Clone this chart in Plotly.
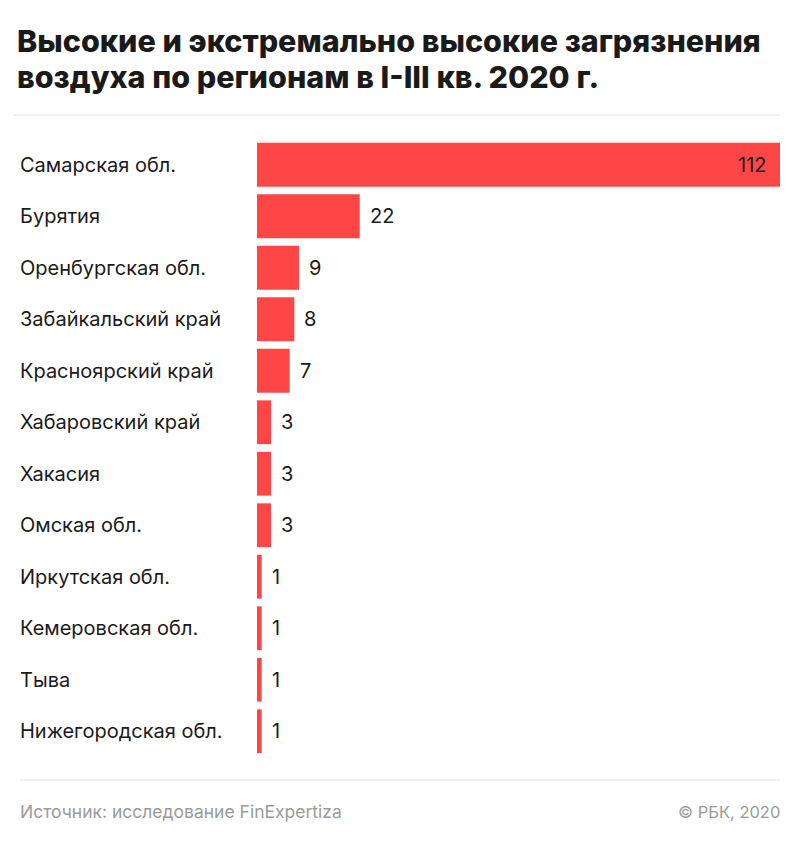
import plotly.graph_objects as go

regions = ["Самарская обл.", "Бурятия", "Оренбургская обл.", "Забайкальский край",
           "Красноярский край", "Хабаровский край", "Хакасия", "Омская обл.",
           "Иркутская обл.", "Кемеровская обл.", "Тыва", "Нижегородская обл."]
values = [112, 22, 9, 8, 7, 3, 3, 3, 1, 1, 1, 1]

title_lines = ["Высокие и экстремально высокие загрязнения",
               "воздуха по регионам в I-III кв. 2020 г."]
source_text = "Источник: исследование FinExpertiza"
credit_text = "© РБК, 2020"

RED = "#ff4646"
DARK = "#1a1a1a"
GRAY = "#9a9a9a"
FONT = "Inter"

W, H = 800, 845
OFF = 8  # page offset of the figure in the browser window
ml, mr, mt, mb = 257 - OFF, 20 + OFF, 139 - OFF, 88 + OFF
pw = W - ml - mr
ph = H - mt - mb


def px_x(px):
    """window pixel x -> paper x"""
    return (px - OFF - ml) / pw


def px_y(py):
    """window pixel y -> paper y"""
    return (H - mb - (py - OFF)) / ph


fig = go.Figure(go.Bar(
    x=values, y=regions, orientation="h",
    marker=dict(color=RED, line=dict(width=0)),
    hoverinfo="skip",
))

ann = []
for r in regions:
    ann.append(dict(x=px_x(18), xref="paper", y=r, yref="y",
                    text=r, showarrow=False, xanchor="left", yanchor="middle",
                    font=dict(family=FONT, size=20, color=DARK)))
for r, v in zip(regions, values):
    if v == max(values):
        ann.append(dict(x=v, y=r, xref="x", yref="y", text=str(v), showarrow=False,
                        xanchor="right", xshift=-12, yanchor="middle",
                        font=dict(family=FONT, size=20, color=DARK)))
    else:
        ann.append(dict(x=v, y=r, xref="x", yref="y", text=str(v), showarrow=False,
                        xanchor="left", xshift=8, yanchor="middle",
                        font=dict(family=FONT, size=20, color=DARK)))
for i, t in enumerate(title_lines):
    ann.append(dict(x=px_x(15), y=px_y(40 + i * 36), xref="paper", yref="paper",
                    xanchor="left", yanchor="middle", showarrow=False, text=t,
                    font=dict(family=FONT, size=30.5, color=DARK, weight=800)))
ann.append(dict(x=px_x(18), y=px_y(812), xref="paper", yref="paper", xanchor="left",
                yanchor="middle", showarrow=False, text=source_text,
                font=dict(family=FONT, size=17.5, color=GRAY)))
ann.append(dict(x=px_x(782), y=px_y(812), xref="paper", yref="paper", xanchor="right",
                yanchor="middle", showarrow=False, text=credit_text,
                font=dict(family=FONT, size=16.5, color=GRAY)))

shapes = [
    dict(type="line", xref="paper", yref="paper",
         x0=px_x(13), x1=px_x(780), y0=px_y(115), y1=px_y(115),
         line=dict(color="#e3e3e3", width=1)),
    dict(type="line", xref="paper", yref="paper",
         x0=px_x(20), x1=px_x(780), y0=px_y(780), y1=px_y(780),
         line=dict(color="#e3e3e3", width=1)),
]

fig.update_layout(
    width=W, height=H,
    margin=dict(l=ml, r=mr, t=mt, b=mb, pad=0),
    paper_bgcolor="white", plot_bgcolor="white",
    bargap=0.15,
    showlegend=False,
    xaxis=dict(range=[0, max(values)], visible=False, fixedrange=True),
    yaxis=dict(autorange="reversed", showticklabels=False, showgrid=False,
               zeroline=False, showline=False, ticks="", fixedrange=True),
    annotations=ann,
    shapes=shapes,
    font=dict(family=FONT),
)

fig.write_html("out.html", config={"displayModeBar": False})
